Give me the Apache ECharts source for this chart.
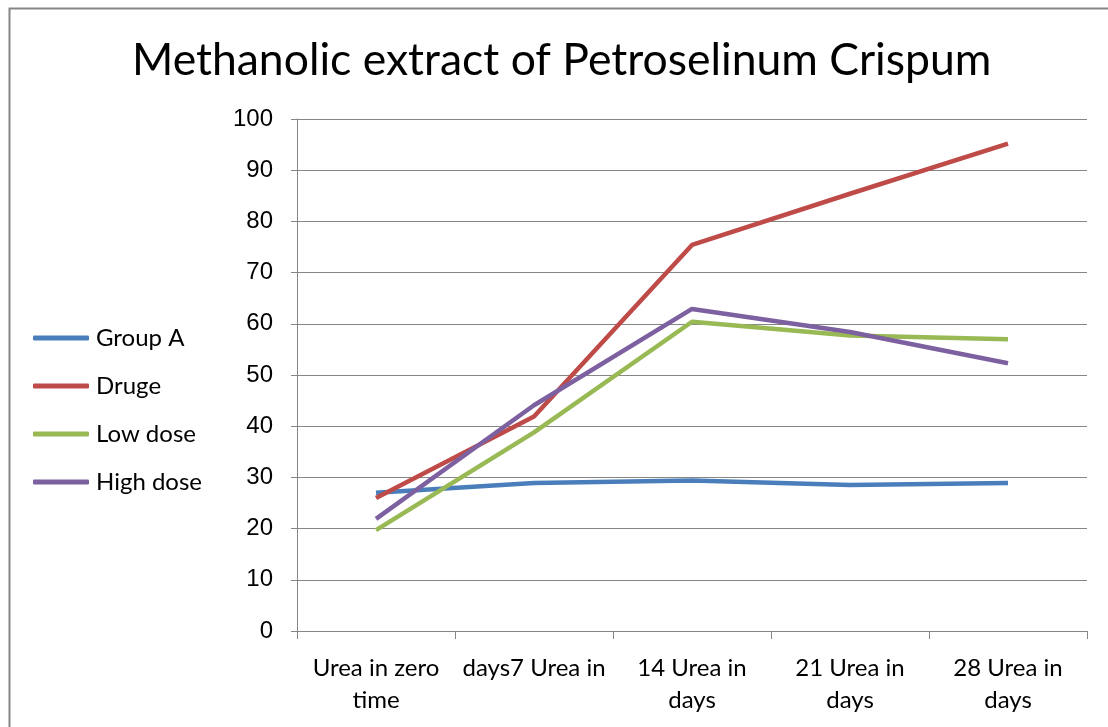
<!DOCTYPE html>
<html>
<head>
<meta charset="utf-8">
<script src="https://cdn.jsdelivr.net/npm/echarts@6/dist/echarts.min.js"></script>
<style>
html, body { margin: 0; padding: 0; background: #fff; }
#chart { width: 1108px; height: 727px; }
</style>
</head>
<body>
<div id="chart"></div>
<script>
const categories = ['Urea in zero\ntime', 'days7 Urea in\n ', '14 Urea in\ndays', '21 Urea in\ndays', '28 Urea in\ndays']
const groupA = [27, 28.9, 29.4, 28.5, 28.9]
const druge = [26, 41.9, 75.4, 85.4, 95.2]
const lowDose = [19.7, 38.8, 60.4, 57.7, 57]
const highDose = [21.9, 44.1, 62.9, 58.4, 52.3]

const chart = echarts.init(document.getElementById('chart'))

const option = {
  animation: false,
  title: {
    text: 'Methanolic extract of Petroselinum Crispum',
    left: 127,
    top: 33,
    textStyle: { fontFamily: 'Lato', fontWeight: 'normal', fontSize: 44.5, color: '#000' }
  },
  graphic: [{
    type: 'rect',
    shape: { x: 9.5, y: 8.5, width: 1120, height: 740 },
    style: { fill: 'none', stroke: '#868686', lineWidth: 2 },
    silent: true
  }],
  legend: {
    orient: 'vertical',
    left: 33,
    top: 326,
    padding: 0,
    itemGap: 24,
    itemWidth: 56,
    itemHeight: 5,
    icon: 'roundRect',
    textStyle: { fontFamily: 'Lato', fontSize: 24, color: '#000', padding: [0, 0, 0, 2] },
    data: ['Group A', 'Druge', 'Low dose', 'High dose']
  },
  grid: { left: 297, right: 21, top: 119, bottom: 96, containLabel: false },
  xAxis: {
    type: 'category',
    data: categories,
    boundaryGap: true,
    axisLine: { lineStyle: { color: '#868686', width: 1 } },
    axisTick: { show: true, length: 8, interval: 0, lineStyle: { color: '#868686' } },
    axisLabel: {
      interval: 0,
      margin: 21,
      lineHeight: 32,
      fontFamily: 'Lato',
      fontSize: 24,
      color: '#000'
    }
  },
  yAxis: {
    type: 'value',
    min: 0,
    max: 100,
    interval: 10,
    axisLine: { show: true, lineStyle: { color: '#868686', width: 1 } },
    axisTick: { show: true, length: 6, lineStyle: { color: '#868686' } },
    splitLine: { lineStyle: { color: '#868686', width: 1 } },
    axisLabel: {
      margin: 24,
      fontFamily: 'Liberation Sans',
      fontSize: 24,
      color: '#000'
    }
  },
  series: [
    { name: 'Group A', type: 'line', data: groupA, symbol: 'none', lineStyle: { width: 4.5, color: '#4A7EBB' }, itemStyle: { color: '#4A7EBB' } },
    { name: 'Druge', type: 'line', data: druge, symbol: 'none', lineStyle: { width: 4.5, color: '#BE4B48' }, itemStyle: { color: '#BE4B48' } },
    { name: 'Low dose', type: 'line', data: lowDose, symbol: 'none', lineStyle: { width: 4.5, color: '#98B954' }, itemStyle: { color: '#98B954' } },
    { name: 'High dose', type: 'line', data: highDose, symbol: 'none', lineStyle: { width: 4.5, color: '#7D60A0' }, itemStyle: { color: '#7D60A0' } }
  ]
}

chart.setOption(option)
</script>
</body>
</html>
